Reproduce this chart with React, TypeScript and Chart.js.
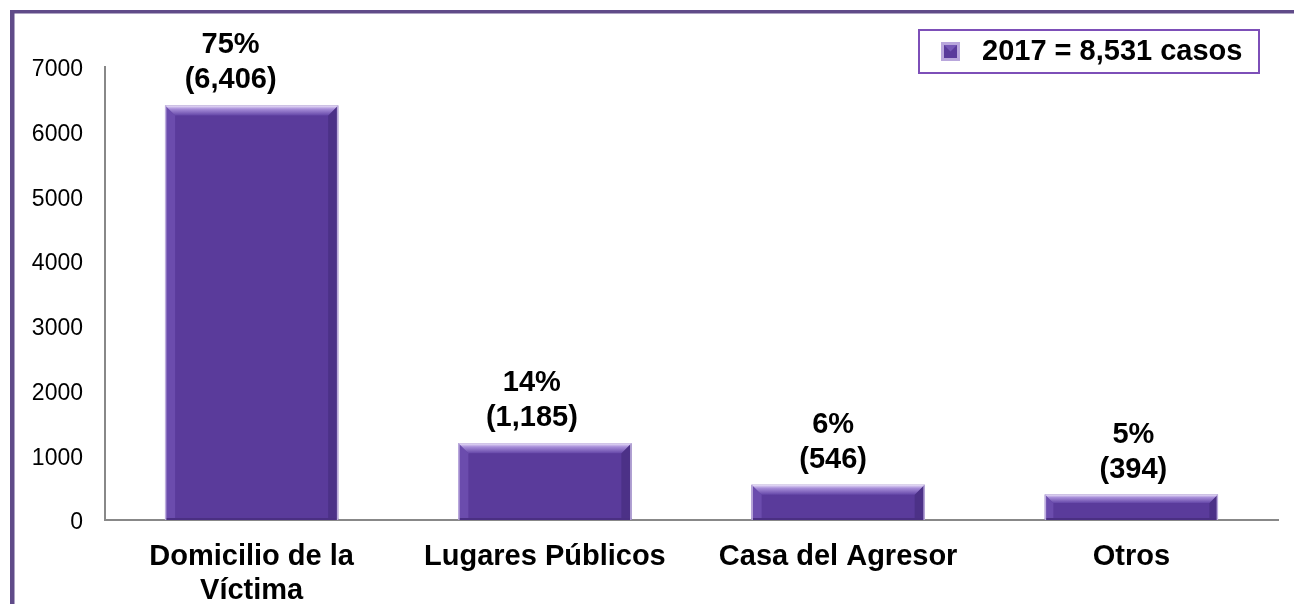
import React, { useEffect, useRef } from "react";
import { Chart, registerables } from "chart.js";

Chart.register(...registerables);

const categories: (string | string[])[] = [
  ["Domicilio de la", "Víctima"],
  "Lugares Públicos",
  "Casa del Agresor",
  "Otros",
];
const values: number[] = [6406, 1185, 546, 394];
const percentLabels: string[] = ["75%", "14%", "6%", "5%"];
const countLabels: string[] = ["(6,406)", "(1,185)", "(546)", "(394)"];
const legendText = "2017 = 8,531 casos";
const yTicks: number[] = [0, 1000, 2000, 3000, 4000, 5000, 6000, 7000];

const FONT = "'Liberation Sans', Arial, Helvetica, sans-serif";
const BAR = "#5a3b9b";

const framePlugin = {
  id: "frame",
  beforeDraw(chart: any) {
    const ctx = chart.ctx;
    ctx.save();
    ctx.fillStyle = "#ffffff";
    ctx.fillRect(0, 0, chart.width, chart.height);
    ctx.fillStyle = "#604b89";
    ctx.fillRect(10, 10, chart.width - 10, 3.5);
    ctx.fillRect(10, 10, 4.5, chart.height - 10);
    ctx.restore();
  },
};

const bevelPlugin = {
  id: "bevel",
  afterDatasetsDraw(chart: any) {
    const ctx = chart.ctx;
    const meta = chart.getDatasetMeta(0);
    ctx.save();
    meta.data.forEach((bar: any) => {
      const w = bar.width;
      const l = bar.x - w / 2;
      const r = bar.x + w / 2;
      const t = bar.y;
      const b = bar.base;
      const bv = Math.min(10, (b - t) / 3);
      ctx.fillStyle = "#6b4cad";
      ctx.beginPath();
      ctx.moveTo(l, t);
      ctx.lineTo(l + bv, t + bv);
      ctx.lineTo(l + bv, b - 2);
      ctx.lineTo(l, b);
      ctx.closePath();
      ctx.fill();
      ctx.fillStyle = "#4c3187";
      ctx.beginPath();
      ctx.moveTo(r, t);
      ctx.lineTo(r - bv, t + bv);
      ctx.lineTo(r - bv, b - 2);
      ctx.lineTo(r, b);
      ctx.closePath();
      ctx.fill();
      const g = ctx.createLinearGradient(0, t, 0, t + bv);
      g.addColorStop(0, "#efe7fb");
      g.addColorStop(0.35, "#a88fd9");
      g.addColorStop(1, "#6547a8");
      ctx.fillStyle = g;
      ctx.beginPath();
      ctx.moveTo(l, t);
      ctx.lineTo(r, t);
      ctx.lineTo(r - bv, t + bv);
      ctx.lineTo(l + bv, t + bv);
      ctx.closePath();
      ctx.fill();
      ctx.fillStyle = "#4a2f82";
      ctx.fillRect(l, b - 2, w, 2);
      ctx.strokeStyle = "rgba(200,185,228,0.9)";
      ctx.lineWidth = 1.5;
      ctx.beginPath();
      ctx.moveTo(l + 0.5, b);
      ctx.lineTo(l + 0.5, t);
      ctx.moveTo(r - 0.5, b);
      ctx.lineTo(r - 0.5, t);
      ctx.stroke();
    });
    ctx.restore();
  },
};

const labelShift = [-21, -13, -5, 2];

const valueLabelPlugin = {
  id: "valueLabels",
  afterDatasetsDraw(chart: any) {
    const ctx = chart.ctx;
    const meta = chart.getDatasetMeta(0);
    ctx.save();
    ctx.fillStyle = "#000";
    ctx.font = `bold 29px ${FONT}`;
    ctx.textAlign = "center";
    ctx.textBaseline = "middle";
    meta.data.forEach((bar: any, i: number) => {
      const x = bar.x + labelShift[i];
      ctx.fillText(percentLabels[i], x, bar.y - 60);
      ctx.fillText(countLabels[i], x, bar.y - 25);
    });
    ctx.restore();
  },
};

const legendPlugin = {
  id: "customLegend",
  afterDraw(chart: any) {
    const ctx = chart.ctx;
    ctx.save();
    ctx.fillStyle = "#fff";
    ctx.fillRect(918, 29, 342, 45);
    ctx.strokeStyle = "#7d4fb8";
    ctx.lineWidth = 2;
    ctx.strokeRect(919, 30, 340, 43);
    const mx = 941, my = 42, ms = 19;
    ctx.fillStyle = "#b9a7dc";
    ctx.fillRect(mx, my, ms, ms);
    ctx.fillStyle = BAR;
    ctx.fillRect(mx + 3, my + 3, ms - 6, ms - 6);
    ctx.fillStyle = "#7558b5";
    ctx.beginPath();
    ctx.moveTo(mx + 3, my + 3);
    ctx.lineTo(mx + ms / 2, my + ms / 2);
    ctx.lineTo(mx + ms - 3, my + 3);
    ctx.closePath();
    ctx.fill();
    ctx.fillStyle = "#000";
    ctx.font = `bold 29px ${FONT}`;
    ctx.textAlign = "left";
    ctx.textBaseline = "middle";
    ctx.fillText(legendText, 982, 52);
    ctx.restore();
  },
};

export default function App() {
  const ref = useRef<HTMLCanvasElement | null>(null);
  useEffect(() => {
    document.body.style.margin = "0";
    if (!ref.current) return;
    const chart = new Chart(ref.current, {
      type: "bar",
      data: {
        labels: categories,
        datasets: [
          {
            label: legendText,
            data: values,
            backgroundColor: BAR,
            borderWidth: 0,
            categoryPercentage: 1,
            barPercentage: 0.59,
          },
        ],
      },
      options: {
        animation: false,
        responsive: false,
        maintainAspectRatio: false,
        devicePixelRatio: 1,
        layout: { padding: { left: 0, right: 16, top: 67, bottom: 0 } },
        plugins: {
          legend: { display: false },
          tooltip: { enabled: false },
          title: { display: false },
        },
        scales: {
          x: {
            grid: { display: false, drawTicks: false },
            border: { display: true, color: "#888888", width: 2 },
            ticks: {
              color: "#000",
              font: { family: FONT, size: 29, weight: "bold", lineHeight: 1.17 },
              padding: 20,
              maxRotation: 0,
              autoSkip: false,
            },
            afterFit: (s: any) => {
              s.height = 84;
            },
          },
          y: {
            min: 0,
            max: 7000,
            afterBuildTicks: (s: any) => {
              s.ticks = yTicks.map((v) => ({ value: v }));
            },
            grid: { display: false, drawTicks: false },
            border: { display: true, color: "#888888", width: 2 },
            ticks: {
              color: "#000",
              font: { family: FONT, size: 23 },
              padding: 22,
              labelOffset: 3,
              callback: (v: any) => String(v),
            },
            afterFit: (s: any) => {
              s.width = 105;
            },
          },
        },
      },
      plugins: [framePlugin, bevelPlugin, valueLabelPlugin, legendPlugin],
    });
    return () => chart.destroy();
  }, []);
  return (
    <div style={{ width: 1294, height: 604, position: "relative" }}>
      <canvas ref={ref} width={1294} height={604} style={{ display: "block" }} />
    </div>
  );
}
